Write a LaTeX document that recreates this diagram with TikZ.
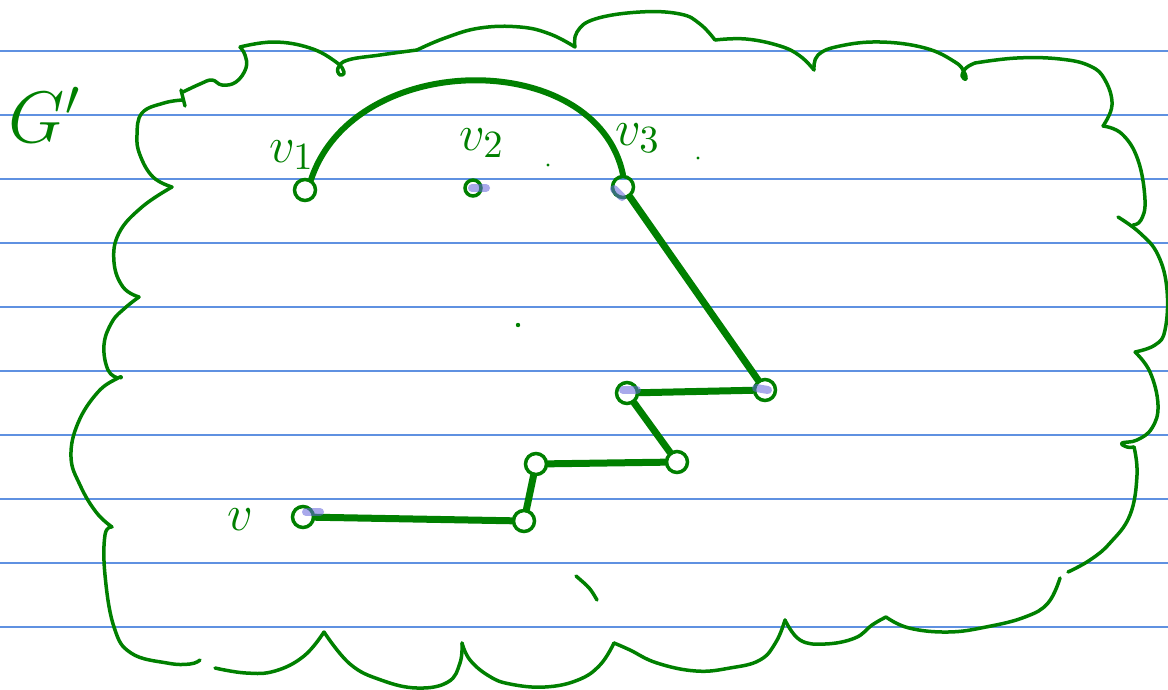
\documentclass[tikz,border=0pt]{standalone}

\definecolor{ink}{RGB}{0,128,0}
\definecolor{ruleblue}{RGB}{95,145,225}
\definecolor{smear}{RGB}{100,100,220}

\tikzset{
  cloud/.style={ink, line width=0.35mm, line cap=round, line join=round},
  vertex/.style={circle, draw=ink, line width=0.35mm, inner sep=0pt, minimum size=2.1mm},
  edge/.style={ink, line width=0.7mm, line cap=round, line join=round},
  lbl/.style={text=ink, inner sep=0pt, font=\fontsize{15}{18}\selectfont},
  hl/.style={smear, opacity=0.55, line width=0.8mm, line cap=round},
}

\begin{document}
\begin{tikzpicture}[x=0.1mm, y=-0.1mm]
        \useasboundingbox (0,0) rectangle (1168,689);
        \fill[white] (0,0) rectangle (1168,689);

        % ----------------------------------------------------
        % Carta a righe
        % ----------------------------------------------------
        \foreach \ry in {51,115,...,627}
            \draw[ruleblue, line width=0.15mm] (0,\ry) -- (1168,\ry);

        % ----------------------------------------------------
        % Nuvola G'
        % ----------------------------------------------------
        \draw[cloud] plot[smooth, tension=0.7] coordinates {(172,187) (153,177) (140,155) (137,135) (142,113) (164,103) (183,100)};
        \draw[cloud] (181,90) -- (185,106);
        \draw[cloud] plot[smooth, tension=0.7] coordinates {(183,92) (200,84) (212,80) (222,85) (236,82) (246,68) (245,55) (240,47)};
        \draw[cloud] plot[smooth, tension=0.7] coordinates {(240,47) (274,42) (310,48) (336,62) (344,72) (340,75) (338,68) (348,60) (380,55) (417,50)};
        \draw[cloud] plot[smooth, tension=0.7] coordinates {(417,50) (445,38) (480,28) (520,27) (550,34) (575,47)};
        \draw[cloud] plot[smooth, tension=0.7] coordinates {(575,47) (577,32) (595,19) (640,12) (680,14) (700,24) (715,40)};
        \draw[cloud] plot[smooth, tension=0.7] coordinates {(715,40) (746,39) (780,46) (800,56) (814,70)};
        \draw[cloud] plot[smooth, tension=0.7] coordinates {(814,70) (818,55) (840,46) (880,42) (925,48) (955,62) (964,72) (966,79) (962,76) (966,68) (975,63)};
        \draw[cloud] plot[smooth, tension=0.7] coordinates {(975,63) (1017,58) (1060,59) (1090,66) (1105,80) (1112,105) (1103,126)};
        \draw[cloud] plot[smooth, tension=0.7] coordinates {(1103,126) (1122,134) (1138,160) (1145,200) (1141,220) (1133,225)};
        \draw[cloud] plot[smooth, tension=0.7] coordinates {(1118,217) (1140,233) (1158,255) (1167,290) (1165,330) (1155,345) (1135,352)};
        \draw[cloud] plot[smooth, tension=0.7] coordinates {(1135,352) (1150,372) (1158,405) (1152,428) (1137,440) (1122,443) (1127,447) (1134,447)};
        \draw[cloud] plot[smooth, tension=0.7] coordinates {(1134,447) (1137,475) (1130,515) (1110,543) (1090,560) (1068,572)};
        \draw[cloud] plot[smooth, tension=0.7] coordinates {(1060,578) (1048,603) (1025,617) (986,627) (948,632) (909,628) (886,617)};
        \draw[cloud] plot[smooth, tension=0.7] coordinates {(886,617) (872,625) (855,638) (825,644) (800,640) (785,620)};
        \draw[cloud] plot[smooth, tension=0.7] coordinates {(785,620) (776,642) (760,660) (730,668) (696,671) (657,663) (630,650) (614,643)};
        \draw[cloud] plot[smooth, tension=0.7] coordinates {(614,643) (600,665) (578,680) (545,687) (510,684) (489,676) (470,660) (462,643)};
        \draw[cloud] plot[smooth, tension=0.7] coordinates {(462,643) (460,663) (448,682) (417,688) (381,680) (350,664) (324,632)};
        \draw[cloud] plot[smooth, tension=0.7] coordinates {(324,632) (304,656) (275,671) (246,673) (215,668)};
        \draw[cloud] plot[smooth, tension=0.7] coordinates {(200,660) (190,664) (167,663) (131,653) (114,627) (105,575) (105,535) (112,527)};
        \draw[cloud] plot[smooth, tension=0.7] coordinates {(112,527) (96,512) (80,485) (71,457) (78,423) (98,392) (118,378) (121,378)};
        \draw[cloud] plot[smooth, tension=0.7] coordinates {(118,378) (108,370) (104,345) (112,322) (125,308) (139,297)};
        \draw[cloud] plot[smooth, tension=0.7] coordinates {(139,297) (123,287) (114,262) (119,233) (142,207) (172,187)};

        \node[lbl, font=\fontsize{20}{24}\selectfont, anchor=west] (gname) at (8,115) {$G'$};

        % ----------------------------------------------------
        % Vertici
        % ----------------------------------------------------
        \node[vertex] (v1) at (305,190) {};
        \node[vertex, minimum size=1.6mm] (v2) at (473,188) {};
        \node[vertex] (v3) at (623,187) {};
        \node[vertex] (p1) at (765,390) {};
        \node[vertex] (p2) at (627,393) {};
        \node[vertex] (p3) at (677,462) {};
        \node[vertex] (p4) at (536,464) {};
        \node[vertex] (p5) at (524,521) {};
        \node[vertex] (v) at (303,517) {};

        \node[lbl] (lv1) at (292,155) {$v_1$};
        \node[lbl] (lv2) at (482,143) {$v_2$};
        \node[lbl] (lv3) at (638,138) {$v_3$};
        \node[lbl] (lv) at (240,520) {$v$};

        % ----------------------------------------------------
        % Cammino e arco
        % ----------------------------------------------------
        \draw[edge, line width=0.6mm] (v1.60) .. controls (355,48) and (597,48) .. (v3.north);
        \draw[edge] (v3) -- (p1) -- (p2) -- (p3) -- (p4) -- (p5) -- (v);

        % Evidenziature blu
        \draw[hl] (472,188) -- (486,188);
        \draw[hl] (614,189) -- (622,197);
        \draw[hl] (623,390) -- (637,390);
        \draw[hl] (756,388) -- (768,390);
        \draw[hl] (306,512) -- (320,512);

        % Puntini e segno sparsi
        \fill[ink] (548,165) circle (1.6);
        \fill[ink] (698,158) circle (1.6);
        \fill[ink] (518,325) circle (2.2);
        \draw[cloud] (576,576) .. controls (590,588) .. (597,600);

    \end{tikzpicture}
\end{document}
